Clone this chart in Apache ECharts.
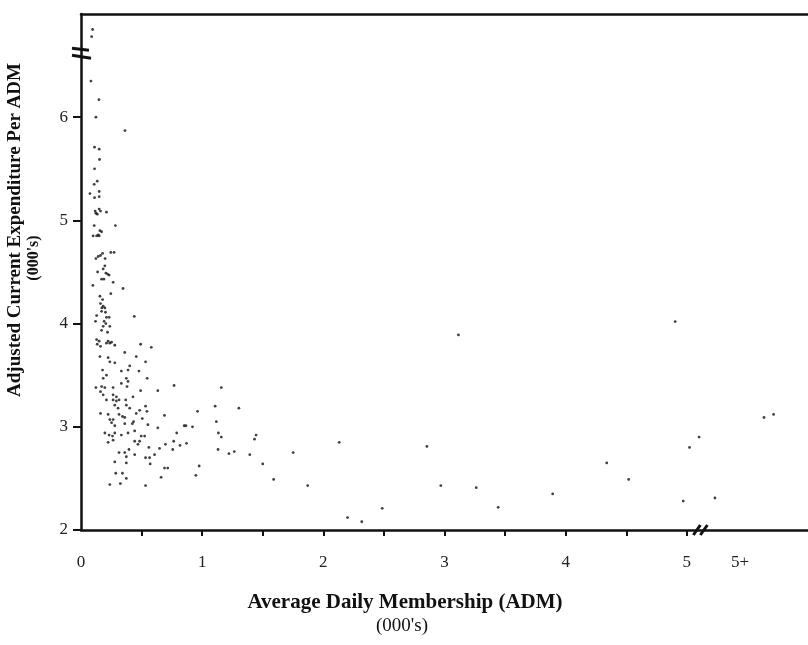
<!DOCTYPE html>
<html>
<head>
<meta charset="utf-8">
<script src="https://cdn.jsdelivr.net/npm/echarts@6/dist/echarts.min.js"></script>
<style>html,body{margin:0;padding:0;background:#fff;}#c{width:808px;height:645px;}</style>
</head>
<body>
<div id="c"></div>
<script>
// Tick labels
const xTickLabels = ['0','1','2','3','4','5','5+'];
const xTickLabelValues = [0,1,2,3,4,5,5.44];
const xTickValues = [0.5,1,1.5,2,2.5,3,3.5,4,4.5,5];
const yTickValues = [2,3,4,5,6];

// Districts with very small ADM and high expenditure
const upperCluster = [
[0.096,6.85],[0.088,6.78],[0.082,6.35],[0.148,6.17],[0.123,6.0],[0.363,5.87],[0.112,5.71],[0.15,5.69],
[0.153,5.59],[0.112,5.50],[0.109,5.35],[0.134,5.38],[0.074,5.26],[0.15,5.28],[0.112,5.22],[0.15,5.23],
[0.123,5.07],[0.15,5.11],[0.134,5.06],[0.117,5.09],[0.161,5.09],[0.21,5.08],[0.284,4.95],[0.109,4.95],
[0.156,4.90],[0.17,4.89],[0.142,4.86],[0.1,4.85],[0.15,4.85],[0.129,4.85],
[0.178,4.68],[0.161,4.66],[0.142,4.65],[0.123,4.63],[0.246,4.69],[0.273,4.69],[0.199,4.63],
[0.197,4.56],[0.183,4.53],[0.205,4.49],[0.219,4.48],[0.232,4.47],[0.137,4.50],[0.17,4.43],[0.189,4.43],
[0.265,4.40],[0.098,4.37],[0.347,4.34],[0.246,4.29]
];
const middleCluster = [
[0.156,4.265],[0.178,4.233],[0.161,4.194],[0.183,4.168],[0.172,4.152],[0.197,4.152],[0.17,4.119],[0.202,4.11],
[0.129,4.078],[0.21,4.061],[0.232,4.061],[0.12,4.022],[0.191,4.022],[0.205,4.0],[0.183,3.974],[0.17,3.935],
[0.238,3.974],[0.44,4.07],[0.219,3.916],[0.129,3.845],[0.15,3.83],[0.224,3.83],[0.238,3.81],[0.252,3.82],
[0.279,3.79],[0.134,3.80],[0.161,3.78],[0.21,3.81],[0.492,3.80],[0.58,3.77],[0.156,3.68],[0.224,3.67],
[0.238,3.63],[0.361,3.72],[0.456,3.68],[0.533,3.63],[0.279,3.62],[0.178,3.55],[0.21,3.50],[0.183,3.47],
[0.333,3.54],[0.402,3.59],[0.388,3.55],[0.478,3.54],[0.546,3.47],[0.374,3.47]
];
const lowerCluster = [
[0.333,3.42],[0.388,3.44],[0.38,3.39],[0.17,3.39],[0.197,3.38],[0.123,3.38],[0.265,3.38],[0.492,3.35],
[0.634,3.35],[0.768,3.40],[1.158,3.38],[0.161,3.34],[0.183,3.31],[0.265,3.31],[0.292,3.29],[0.21,3.26],
[0.265,3.26],[0.292,3.25],[0.314,3.26],[0.369,3.26],[0.429,3.29],[0.279,3.21],[0.306,3.18],[0.374,3.21],
[0.402,3.18],[0.484,3.16],[0.533,3.20],[0.544,3.15],[0.962,3.15],[1.107,3.20],[1.303,3.18],[0.161,3.13],
[0.224,3.12],[0.314,3.12],[0.342,3.10],[0.361,3.09],[0.456,3.13],[0.506,3.08],[0.238,3.07],[0.265,3.07],
[0.689,3.11],[0.434,3.05],[0.252,3.04],[0.279,3.01],[0.361,3.03],[0.424,3.03],[0.552,3.02],[0.852,3.01],
[0.866,3.01],[0.92,3.00],[1.117,3.05],[0.197,2.94],[0.232,2.92],[0.26,2.91],[0.279,2.94],[0.333,2.92],
[0.388,2.94],[0.443,2.96],[0.497,2.91],[0.525,2.91],[0.634,2.99],[0.79,2.94],[1.134,2.94],[1.158,2.90],
[1.445,2.92],[1.432,2.88],[0.224,2.85],[0.265,2.87],[0.443,2.86],[0.47,2.83],[0.484,2.86],[0.765,2.86],
[0.697,2.83],[0.871,2.84],[0.817,2.82],[0.56,2.80],[0.648,2.79],[0.757,2.78],[0.396,2.78],[0.314,2.75],
[0.361,2.75],[1.131,2.78],[1.221,2.74],[1.265,2.76],[1.393,2.73],[1.751,2.75],[0.374,2.71],[0.443,2.73],
[0.533,2.70],[0.566,2.70],[0.607,2.73],[0.279,2.66],[0.374,2.65],[0.571,2.64],[0.689,2.60],[0.716,2.60],
[0.975,2.62],[1.5,2.64],[0.287,2.55],[0.342,2.55],[0.374,2.50],[0.661,2.51],[0.948,2.53],[1.59,2.49],
[0.238,2.44],[0.325,2.45],[0.533,2.43],[1.871,2.43]
];
const largeDistricts = [
[3.115,3.89],[2.131,2.85],[2.2,2.12],[2.317,2.08],[2.486,2.21],[2.855,2.81],[2.97,2.43],[3.262,2.41],
[3.443,2.22],[3.893,2.35],[4.339,2.65],[4.52,2.49],[4.904,4.02],[4.97,2.28],[5.022,2.80],[5.101,2.90],
[5.232,2.31],[5.637,3.09],[5.716,3.12]
];

const allPoints = upperCluster.concat(middleCluster, lowerCluster, largeDistricts);

const serif = '"Liberation Serif", "DejaVu Serif", serif';
const ink = '#111';

const chart = echarts.init(document.getElementById('c'), null, {renderer: 'canvas'});
chart.setOption({
  animation: false,
  backgroundColor: '#fff',
  grid: {left: 81, right: -5, top: 14, bottom: 115, containLabel: false},
  xAxis: [{
    type: 'value', min: 0, max: 6, position: 'bottom',
    splitLine: {show: false},
    axisLine: {show: true, lineStyle: {color: ink, width: 2.5}},
    axisTick: {show: true, inside: false, length: 6, customValues: xTickValues, lineStyle: {color: ink, width: 2}},
    axisLabel: {
      show: true, customValues: xTickLabelValues, margin: 24,
      fontFamily: serif, fontSize: 17, color: '#222',
      formatter: function (v) { const i = xTickLabelValues.indexOf(v); return i >= 0 ? xTickLabels[i] : ''; }
    }
  }, {
    type: 'value', min: 0, max: 6, position: 'top',
    splitLine: {show: false}, axisTick: {show: false}, axisLabel: {show: false},
    axisLine: {show: true, lineStyle: {color: ink, width: 2.5}}
  }],
  yAxis: {
    type: 'value', min: 2, max: 7,
    splitLine: {show: false},
    axisLine: {show: true, lineStyle: {color: ink, width: 2.5}},
    axisTick: {show: true, inside: false, length: 8, customValues: yTickValues, lineStyle: {color: ink, width: 2}},
    axisLabel: {show: true, customValues: yTickValues, margin: 13, fontFamily: serif, fontSize: 17, color: '#222'}
  },
  series: [{
    type: 'scatter',
    data: allPoints,
    symbol: 'circle',
    symbolSize: 2.8,
    itemStyle: {color: ink},
    clip: false
  }]
});

function drawDecor() {
  const yb = chart.convertToPixel({yAxisIndex: 0}, 6.63);
  const ax = chart.convertToPixel({xAxisIndex: 0}, 0);
  const xb = chart.convertToPixel({xAxisIndex: 0}, 5.12);
  const ay = chart.convertToPixel({yAxisIndex: 0}, 2);
  chart.setOption({
    graphic: [
      {type: 'rect', shape: {x: ax - 3, y: yb - 3, width: 6, height: 6}, style: {fill: '#fff'}},
      {type: 'line', shape: {x1: ax - 9, y1: yb - 4, x2: ax + 8, y2: yb - 2}, style: {stroke: ink, lineWidth: 3}},
      {type: 'line', shape: {x1: ax - 9, y1: yb + 3, x2: ax + 10, y2: yb + 6}, style: {stroke: ink, lineWidth: 3}},
      {type: 'rect', shape: {x: xb - 3, y: ay - 3, width: 6, height: 6}, style: {fill: '#fff'}},
      {type: 'line', shape: {x1: xb - 8, y1: ay + 5, x2: xb - 1, y2: ay - 5}, style: {stroke: ink, lineWidth: 3}},
      {type: 'line', shape: {x1: xb - 1, y1: ay + 5, x2: xb + 6, y2: ay - 5}, style: {stroke: ink, lineWidth: 3}},
      {type: 'text', x: 405, y: 603, style: {text: 'Average Daily Membership (ADM)', font: 'bold 21px ' + serif, fill: ink, align: 'center', verticalAlign: 'middle'}},
      {type: 'text', x: 402, y: 626, style: {text: "(000's)", font: '19px ' + serif, fill: ink, align: 'center', verticalAlign: 'middle'}},
      {type: 'text', x: 15, y: 230, rotation: Math.PI / 2, style: {text: 'Adjusted Current Expenditure Per ADM', font: 'bold 19px ' + serif, fill: ink, align: 'center', verticalAlign: 'middle'}},
      {type: 'text', x: 34, y: 258, rotation: Math.PI / 2, style: {text: "(000's)", font: 'bold 16px ' + serif, fill: ink, align: 'center', verticalAlign: 'middle'}}
    ]
  });
}
drawDecor();
</script>
</body>
</html>
